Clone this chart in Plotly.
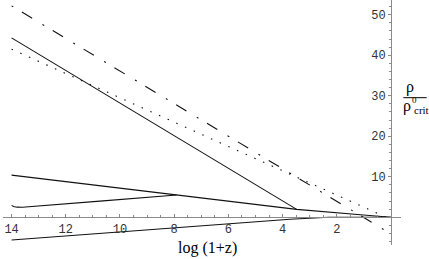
import plotly.graph_objects as go

# ---- data ----
# x: log(1+z), y: rho / rho_crit^0
rad_x = [14.0, 0.0]
rad_y = [52.2, -4.1]

mat_x = [14.0, 0.0]
mat_y = [41.5, -0.52]

steep_x = [14.0, 3.48]
steep_y = [44.3, 1.95]

track_x = [14.0, 7.91, 3.48, 1.02, 0.0]
track_y = [10.4, 5.5, 1.95, 0.57, 0.0]

low_x = [14.0, 13.93, 13.8, 13.6, 10.74, 7.91]
low_y = [2.95, 2.65, 2.5, 2.48, 4.0, 5.5]

bot_x = [14.0, 9.26, 6.56, 3.73, 2.3, 1.0, 0.0]
bot_y = [-5.6, -3.3, -1.9, -0.5, 0.0, 0.1, 0.0]

x_ticks = [2, 4, 6, 8, 10, 12, 14]
y_ticks = [10, 20, 30, 40, 50]

# ---- layout geometry ----
W, H = 429, 259
ML, MR, MT, MB = 3, 28, 0, 14
PW, PH = W - ML - MR, H - MT - MB
XR = [14.317, -0.369]
YR = [-6.84, 53.65]


def px(xp):
    return (xp - ML) / PW


def py(yp):
    return (H - MB - yp) / PH


black = "#111"
fig = go.Figure()
fig.add_trace(go.Scatter(x=rad_x, y=rad_y, mode="lines",
                         line=dict(color=black, width=1.1, dash="2px,10px,12px,12px")))
fig.add_trace(go.Scatter(x=mat_x, y=mat_y, mode="lines",
                         line=dict(color=black, width=1.1, dash="1.5px,8px")))
for xs, ys in [(steep_x, steep_y), (track_x, track_y), (low_x, low_y), (bot_x, bot_y)]:
    fig.add_trace(go.Scatter(x=xs, y=ys, mode="lines",
                             line=dict(color=black, width=1.1)))

axcol = "#8a8a8a"
tickfont = dict(family="Liberation Mono", size=12, color="#333")

x_pos = (0 - YR[0]) / (YR[1] - YR[0])
y_pos = (XR[0] - 0) / (XR[0] - XR[1])

fig.update_layout(
    width=W, height=H,
    margin=dict(l=ML, r=MR, t=MT, b=MB, pad=0),
    paper_bgcolor="white", plot_bgcolor="white",
    showlegend=False,
    xaxis=dict(range=XR, showgrid=False, zeroline=False, showline=True,
               linecolor=axcol, linewidth=1, anchor="free", position=x_pos,
               ticks="inside", ticklen=3, tickwidth=1, tickcolor=axcol,
               tickmode="array", tickvals=x_ticks,
               ticktext=[str(v) for v in x_ticks], tickfont=tickfont,
               minor=dict(ticks="inside", ticklen=2, tickcolor=axcol,
                          tickmode="linear", tick0=0, dtick=0.5)),
    yaxis=dict(range=YR, showgrid=False, zeroline=False, showline=True,
               linecolor=axcol, linewidth=1, anchor="free", position=y_pos,
               side="left", ticks="outside", ticklen=3, tickwidth=1, tickcolor=axcol,
               tickmode="array", tickvals=y_ticks,
               ticktext=[str(v) for v in y_ticks], tickfont=tickfont,
               minor=dict(ticks="outside", ticklen=2, tickcolor=axcol,
                          tickmode="linear", tick0=0, dtick=2)),
)

serif = "Liberation Serif"
anns = [
    ("log (1+z)", 207, 248, 16),
    ("\u03c1", 410.3, 87, 16),
    ("\u03c1", 406.5, 106, 16),
    ("0", 414.5, 99.8, 9),
    ("crit", 421.0, 110.5, 11),
]
for txt, ax, ay, fs in anns:
    fig.add_annotation(text=txt, x=px(ax), y=py(ay), xref="paper", yref="paper",
                       showarrow=False, xanchor="center", yanchor="middle",
                       borderpad=0,
                       font=dict(family=serif, size=fs, color="black"))

fig.add_shape(type="line", xref="paper", yref="paper",
              x0=px(403.3), x1=px(426.7), y0=py(97.7), y1=py(97.7),
              line=dict(color="black", width=1))

fig.write_html("out.html", config={"displayModeBar": False},
               post_script="document.body.style.margin='0';document.body.style.overflow='hidden';")
